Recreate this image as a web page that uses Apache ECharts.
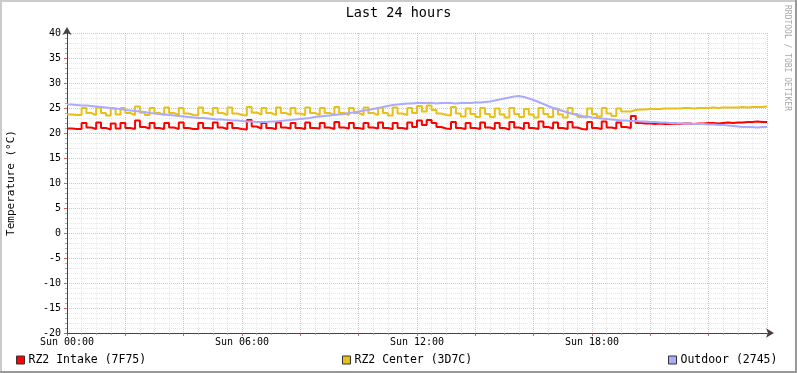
<!DOCTYPE html>
<html>
<head>
<meta charset="utf-8">
<script src="https://cdn.jsdelivr.net/npm/echarts@6/dist/echarts.min.js"></script>
<style>
html,body{margin:0;padding:0;background:#fff;}
#chart{width:797px;height:373px;}
</style>
</head>
<body>
<div id="chart"></div>
<script>
// 10-minute samples, index 0 = Sun 00:00, index 144 = Mon 00:00
const stepMinutes = 10;
const seriesNames = ['RZ2 Intake (7F75)', 'RZ2 Center (3D7C)', 'Outdoor (2745)'];
const intake = [
  20.9,20.8,20.8,22.0,21.1,20.8,22.1,21.0,20.7,21.9,
  20.9,22.0,21.0,20.8,22.5,21.2,20.9,22.0,21.0,20.8,
  22.0,21.1,20.8,22.1,21.0,20.8,20.8,22.0,21.0,20.9,
  22.1,21.1,20.8,22.0,21.0,20.8,20.7,22.6,21.3,20.9,
  22.0,21.0,20.8,22.1,21.1,20.9,22.0,21.0,20.8,22.1,
  21.0,20.9,22.0,21.1,20.8,22.2,21.1,20.9,22.0,21.0,
  20.8,22.0,21.1,20.9,22.1,21.0,20.8,22.0,21.0,20.8,
  22.1,21.2,22.5,21.6,22.6,22.0,21.2,20.9,20.8,22.2,
  21.0,20.8,22.0,21.0,20.8,22.1,21.1,20.8,22.0,21.0,
  20.7,22.2,21.1,20.8,22.0,21.0,20.8,22.3,21.2,20.9,
  22.1,21.0,20.8,22.2,21.1,20.8,20.7,22.2,21.0,20.8,
  22.3,21.1,20.9,22.1,21.2,21.0,23.4,22.0,21.9,21.9,
  21.8,21.9,21.8,21.8,21.9,21.8,21.9,21.9,21.8,21.9,
  21.9,22.0,22.0,21.9,22.0,22.1,22.0,22.1,22.1,22.2,
  22.2,22.3,22.2,22.2,22.2
];
const center = [
  23.7,23.6,23.6,25.0,24.0,23.6,25.1,24.0,23.5,24.9,
  23.7,25.0,24.0,23.6,25.3,24.1,23.6,25.0,24.0,23.6,
  25.1,24.0,23.6,25.0,23.9,23.6,23.5,25.1,24.0,23.6,
  25.0,24.0,23.6,25.1,23.9,23.6,23.5,25.2,24.1,23.7,
  25.0,24.0,23.6,25.1,24.0,23.6,25.0,23.9,23.6,25.1,
  24.0,23.6,25.0,24.0,23.6,25.2,24.0,23.6,25.0,24.0,
  23.6,25.1,24.0,23.6,25.0,24.0,23.5,25.1,23.9,23.6,
  25.0,24.0,25.4,24.3,25.5,24.6,23.9,23.6,23.5,25.2,
  23.9,23.3,24.9,23.8,23.2,25.0,23.8,23.2,24.9,23.7,
  23.1,25.0,23.8,23.2,24.8,23.7,23.1,25.0,23.8,23.2,
  24.9,23.7,23.1,25.0,23.8,23.2,23.1,24.9,23.8,23.3,
  25.0,23.9,23.4,24.9,24.3,24.3,24.6,24.7,24.7,24.8,
  24.8,24.8,24.9,24.9,24.9,24.9,25.0,25.0,24.9,25.0,
  25.0,25.0,25.1,25.0,25.1,25.1,25.1,25.1,25.2,25.1,
  25.2,25.2,25.2,25.3,25.3
];
const outdoor = [
  25.7,25.6,25.5,25.5,25.4,25.3,25.2,25.1,25.0,24.9,
  24.8,24.6,24.5,24.4,24.3,24.2,24.0,23.9,23.8,23.7,
  23.6,23.5,23.4,23.3,23.2,23.1,23.0,23.0,22.9,22.8,
  22.7,22.7,22.6,22.5,22.5,22.4,22.3,22.3,22.2,22.2,
  22.2,22.3,22.3,22.4,22.5,22.6,22.7,22.8,22.9,23.0,
  23.2,23.3,23.4,23.5,23.6,23.7,23.8,24.0,24.1,24.3,
  24.5,24.6,24.8,25.0,25.2,25.4,25.6,25.7,25.8,25.9,
  25.9,26.0,26.0,26.0,26.0,25.9,26.0,26.0,26.0,25.9,
  26.0,26.0,26.0,26.1,26.1,26.2,26.3,26.5,26.7,26.9,
  27.1,27.3,27.4,27.2,26.9,26.6,26.2,25.8,25.4,25.0,
  24.7,24.4,24.1,23.8,23.6,23.4,23.3,23.1,23.0,22.9,
  22.8,22.7,22.6,22.5,22.5,22.4,22.4,22.3,22.3,22.2,
  22.2,22.1,22.1,22.0,22.0,21.9,21.9,21.9,21.8,21.8,
  21.8,21.7,21.7,21.6,21.6,21.5,21.4,21.3,21.2,21.2,
  21.2,21.1,21.2,21.2,21.1
];
const xLabelHours = [0, 6, 12, 18];
const xLabelPrefix = 'Sun ';
const yTicks = [-20, 40, 5];

const colors = ['#FF0000', '#E8C019', '#AAAAFF'];
const mono = '"DejaVu Sans Mono", monospace';

function toPairs(arr) {
  return arr.map((v, i) => [i * stepMinutes / 60, v]);
}
function pad(n) { return (n < 10 ? '0' : '') + n; }

const chart = echarts.init(document.getElementById('chart'), null, {renderer: 'canvas'});
const majorGrid = {show: true, lineStyle: {color: 'rgba(240,110,110,0.5)', width: 1, type: [1, 1]}};
const minorGrid = {show: true, lineStyle: {color: 'rgba(185,185,185,0.35)', width: 1, type: [1, 1]}};

function legendFor(idx, left) {
  return {
    left: left, top: 349, orient: 'horizontal',
    itemWidth: 8, itemHeight: 8, itemGap: 0,
    icon: 'rect', selectedMode: false,
    itemStyle: {borderColor: '#333', borderWidth: 1},
    textStyle: {fontFamily: mono, fontSize: 11.5, color: '#000', padding: [0, 0, 0, -1]},
    data: [seriesNames[idx]]
  };
}

const option = {
  animation: false,
  backgroundColor: '#ffffff',
  title: {
    text: 'Last 24 hours', left: 'center', top: 1,
    textStyle: {fontFamily: mono, fontSize: 13.5, fontWeight: 'normal', color: '#000'}
  },
  legend: [legendFor(0, 11), legendFor(1, 337), legendFor(2, 663)],
  grid: {left: 67, top: 33, width: 700, height: 300, containLabel: false, outerBoundsMode: 'none'},
  xAxis: {
    type: 'value', min: 0, max: 24, interval: 2,
    axisLine: {show: true, onZero: false, lineStyle: {color: '#4a4040', width: 1},
      symbol: ['none', 'arrow'], symbolSize: [7, 8], symbolOffset: [0, 7]},
    axisTick: {show: true, length: 3, lineStyle: {color: 'rgba(200,60,60,0.8)'}},
    minorTick: {show: true, splitNumber: 4, length: 2, lineStyle: {color: 'rgba(150,150,150,0.8)'}},
    splitLine: majorGrid,
    minorSplitLine: minorGrid,
    axisLabel: {
      margin: 4, fontFamily: mono, fontSize: 10, color: '#000',
      showMaxLabel: false,
      formatter: function (v) { return xLabelHours.indexOf(v) >= 0 ? xLabelPrefix + pad(v) + ':00' : ''; }
    }
  },
  yAxis: {
    type: 'value', min: yTicks[0], max: yTicks[1], interval: yTicks[2],
    name: 'Temperature (°C)', nameLocation: 'middle', nameGap: 50, nameRotate: 90,
    nameTextStyle: {fontFamily: mono, fontSize: 11, color: '#000'},
    axisLine: {show: true, onZero: false, lineStyle: {color: '#4a4040', width: 1},
      symbol: ['none', 'arrow'], symbolSize: [7, 8], symbolOffset: [0, 6]},
    axisTick: {show: true, length: 3, lineStyle: {color: 'rgba(200,60,60,0.8)'}},
    minorTick: {show: true, splitNumber: 5, length: 2, lineStyle: {color: 'rgba(150,150,150,0.8)'}},
    splitLine: majorGrid,
    minorSplitLine: minorGrid,
    axisLabel: {margin: 6, fontFamily: mono, fontSize: 10, color: '#000'}
  },
  series: [intake, center, outdoor].map((arr, k) => ({
    name: seriesNames[k], type: 'line', step: 'end', showSymbol: false,
    data: toPairs(arr), color: colors[k],
    itemStyle: {color: colors[k]},
    lineStyle: {color: colors[k], width: 2},
    z: 3 + k
  })),
  graphic: [
    {type: 'rect', left: 0, top: 0, shape: {width: 797, height: 2}, style: {fill: '#CBCBCB'}, silent: true},
    {type: 'rect', left: 0, top: 0, shape: {width: 2, height: 373}, style: {fill: '#CBCBCB'}, silent: true},
    {type: 'rect', left: 0, top: 371, shape: {width: 797, height: 2}, style: {fill: '#999999'}, silent: true},
    {type: 'rect', left: 795, top: 0, shape: {width: 2, height: 373}, style: {fill: '#999999'}, silent: true},
    {type: 'text', x: 787, y: 5, rotation: -Math.PI / 2, silent: true,
      style: {text: 'RRDTOOL / TOBI OETIKER', fontFamily: mono, fontSize: 8, fill: '#A8A8A8',
        align: 'left', verticalAlign: 'middle'}}
  ]
};
chart.setOption(option);
</script>
</body>
</html>
